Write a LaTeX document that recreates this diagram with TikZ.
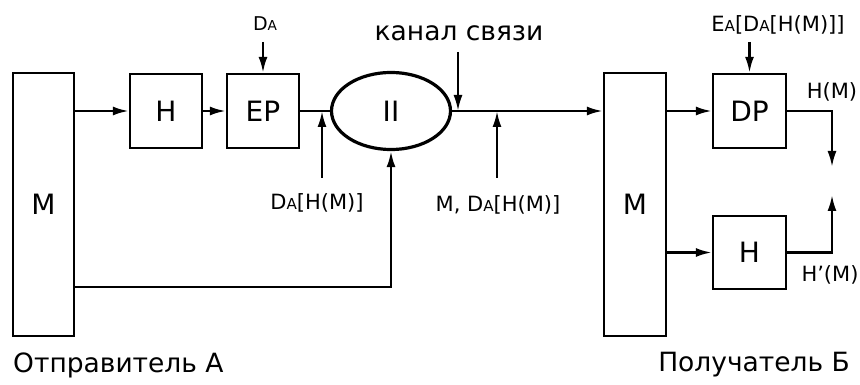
\documentclass[tikz,border=0pt]{standalone}
\usepackage{fontspec}
\setmainfont{DejaVu Sans}
\usepackage{graphicx}
\usetikzlibrary{arrows.meta,shapes.geometric}

% small index letter, as in D_A
\newcommand{\smA}{\scalebox{0.72}{A}}

\begin{document}
\begin{tikzpicture}[x=1pt, y=-1pt,
  box/.style={draw, line width=2.4pt, inner sep=0pt, font=\fontsize{28}{32}\selectfont},
  arr/.style={-{Latex[length=16pt,width=9pt]}, line width=2.4pt},
  lbl/.style={inner sep=0pt, font=\fontsize{21}{24}\selectfont},
  big/.style={inner sep=0pt, font=\fontsize{26.5}{30}\selectfont}]
  \useasboundingbox (0,0) rectangle (860,385);
  % sender A
  \node[box, minimum width=61pt, minimum height=263pt] (m1) at (43.5,204.5) {M};
  \node[box, minimum width=72pt, minimum height=74pt] (h1) at (166,111) {H};
  \node[box, minimum width=72pt, minimum height=74pt] (ep) at (263,111) {EP};
  \node[ellipse, draw, line width=3.2pt, minimum width=119pt, minimum height=77pt,
        inner sep=0pt, font=\fontsize{28}{32}\selectfont] (ell) at (391,111) {II};
  % receiver B
  \node[box, minimum width=62pt, minimum height=263pt] (m2) at (635,204.5) {M};
  \node[box, minimum width=73pt, minimum height=74pt] (dp) at (749.5,111) {DP};
  \node[box, minimum width=73pt, minimum height=73pt] (h2) at (749.5,252.5) {H};
  % labels
  \node[inner sep=0pt, font=\fontsize{19}{22}\selectfont] (da) at (265,24) {D\smA};
  \node[lbl] (dah) at (317,203) {D\smA[H(M)]};
  \node[big] (ch) at (459,33) {канал связи};
  \node[lbl] (mdah) at (498,205) {M, D\smA[H(M)]};
  \node[lbl] (ea) at (778,25) {E\smA[D\smA[H(M)]]};
  \node[lbl] (hm) at (832,92) {H(M)};
  \node[lbl] (hpm) at (830,275) {H’(M)};
  \node[big, anchor=west] (snd) at (13,365) {Отправитель А};
  \node[big, anchor=east] (rcv) at (850,365) {Получатель Б};
  % joints and free ends
  \coordinate (das) at (263,42);
  \coordinate (eas) at (749.5,42);
  \coordinate (j1) at (322,111);
  \coordinate (j1s) at (322,178);
  \coordinate (chj) at (458,111);
  \coordinate (chs) at (458,52);
  \coordinate (j2) at (497,111);
  \coordinate (j2s) at (497,178);
  \coordinate (bot) at (391,287);
  \coordinate (hme) at (832,167);
  \coordinate (hpme) at (832,195);
  % message path
  \draw[arr] (m1.east |- h1) -- (h1);
  \draw[arr] (h1) -- (ep);
  \draw[line width=2.4pt] (ep) -- (ell);
  \draw[arr] (ell) -- (ell -| m2.west);
  \draw[arr, line join=miter] (m1.east |- bot) -- (bot) -- (ell.south);
  \draw[arr] (m2.east |- dp) -- (dp);
  \draw[arr] (m2.east |- h2) -- (h2);
  \draw[arr, line join=miter] (dp.east) -- (dp.east -| hme) -- (hme);
  \draw[arr, line join=miter] (h2.east) -- (h2.east -| hpme) -- (hpme);
  % side inputs
  \draw[arr] (das) -- (ep.north);
  \draw[arr] (eas) -- (dp.north);
  \draw[arr] (j1s) -- (j1);
  \draw[arr] (chs) -- (chj);
  \draw[arr] (j2s) -- (j2);
\end{tikzpicture}
\end{document}
